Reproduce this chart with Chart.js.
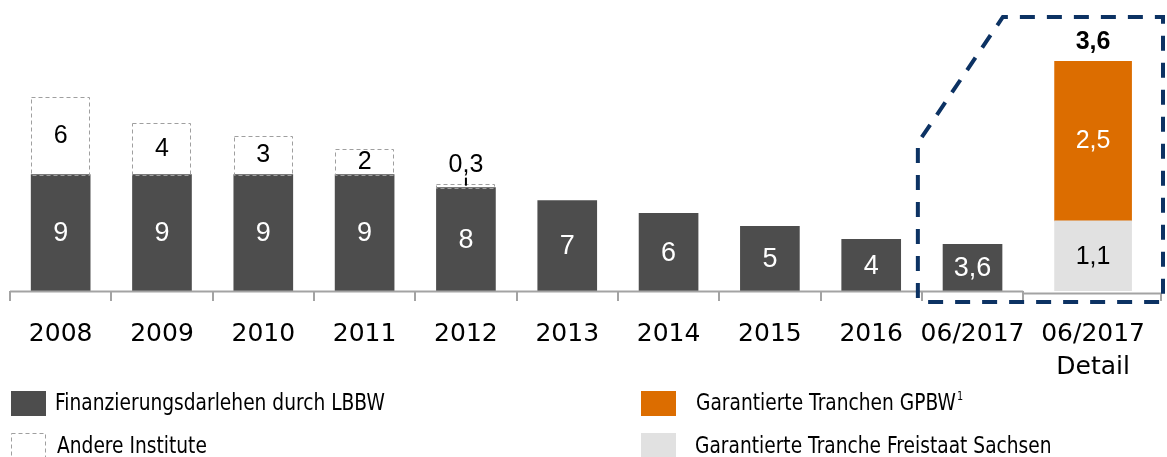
<!DOCTYPE html>
<html lang="de">
<head>
<meta charset="utf-8">
<title>Finanzierungsstruktur</title>
<script src="https://cdn.jsdelivr.net/npm/chart.js@4.4.1/dist/chart.umd.min.js"></script>
<style>
  html, body { margin: 0; padding: 0; background: #fff; }
  #wrap { width: 1167px; height: 457px; position: relative; }
</style>
</head>
<body>
<div id="wrap"><canvas id="chart"></canvas></div>
<script>
const categories = ['2008', '2009', '2010', '2011', '2012', '2013', '2014', '2015', '2016', '06/2017']
const lbbwValues = [9, 9, 9, 9, 8, 7, 6, 5, 4, 3.6]
const otherValues = [6, 4, 3, 2, 0.3, null, null, null, null, null]
const detailCategory = ['06/2017', 'Detail']
const freistaatValues = [1.1]
const gpbwValues = [2.5]
const detailTotal = 3.6

const DARK = '#4d4d4d'
const ORANGE = '#dc6d00'
const LIGHT = '#e1e1e1'
const NAVY = '#0c3263'
const AXIS = '#a3a3a3'
const DASH_GREY = '#9f9f9f'

// every year is one unit wide on x, the detail column gets a wider slot
const DETAIL_WIDTH = 1.38
const detailX = categories.length + DETAIL_WIDTH / 2

const fmt = v => String(v).replace('.', ',')
const mainPoints = vals => vals.map((v, i) => ({x: i + 0.5, y: v}))
const detailPoints = vals => vals.map(v => ({x: detailX, y: v}))

function drawText(ctx, str, px, py, font, color, sx = 1, align = 'center') {
    ctx.save()
    ctx.font = font
    ctx.fillStyle = color
    ctx.textAlign = align
    ctx.textBaseline = 'middle'
    ctx.translate(px, py)
    ctx.scale(sx, 1)
    ctx.fillText(str, 0, 0)
    ctx.restore()
}

function dashedRect(ctx, x, y, w, h) {
    ctx.save()
    ctx.strokeStyle = DASH_GREY
    ctx.lineWidth = 1
    ctx.setLineDash([4, 3])
    ctx.strokeRect(Math.round(x) + 0.5, Math.round(y) + 0.5, Math.round(w) - 1, Math.round(h))
    ctx.restore()
}

const legendItems = [
    {text: 'Finanzierungsdarlehen durch LBBW', fill: DARK, box: [11, 391], tx: 55, ty: 404},
    {text: 'Andere Institute', fill: null, box: [11, 433], tx: 57, ty: 447},
    {text: 'Garantierte Tranchen GPBW', sup: '1', fill: ORANGE, box: [641, 391], tx: 696, ty: 404},
    {text: 'Garantierte Tranche Freistaat Sachsen', fill: LIGHT, box: [641, 433], tx: 695, ty: 447},
]

const LEGEND_FONT = '23px "DejaVu Sans"'
const LEGEND_SX = 0.81
const AXIS_FONT = '25px "DejaVu Sans"'

const decorations = {
    id: 'decorations',
    afterDatasetsDraw(chart) {
        const {ctx, chartArea, scales: {x, y, y2}} = chart
        const base = y.getPixelForValue(0)

        // dashed boxes for the other banks
        chart.getDatasetMeta(1).data.forEach((bar, i) => {
            const v = otherValues[i]
            if (v == null) return
            const p = bar.getProps(['x', 'y', 'base', 'width'], true)
            dashedRect(ctx, p.x - p.width / 2, p.y, p.width, p.base - p.y)
            if (p.base - p.y > 24) {
                drawText(ctx, fmt(v), p.x, (p.y + p.base) / 2, '25px "Liberation Sans"', '#000')
            } else {
                drawText(ctx, fmt(v), p.x, p.y - 19, '25px "Liberation Sans"', '#000')
                ctx.save()
                ctx.strokeStyle = '#000'
                ctx.lineWidth = 2
                ctx.beginPath()
                ctx.moveTo(p.x, p.y - 6)
                ctx.lineTo(p.x, p.y + 2)
                ctx.stroke()
                ctx.restore()
            }
        })

        // values inside the LBBW bars
        chart.getDatasetMeta(0).data.forEach((bar, i) => {
            const p = bar.getProps(['x', 'y', 'base'], true)
            drawText(ctx, fmt(lbbwValues[i]), p.x, (p.y + p.base) / 2 + 1, '27px "Liberation Sans"', '#fff')
        })

        // detail column
        const fr = chart.getDatasetMeta(2).data[0].getProps(['x', 'y', 'base'], true)
        drawText(ctx, fmt(freistaatValues[0]), fr.x, (fr.y + fr.base) / 2 + 1, '25px "Liberation Sans"', '#000')
        const gp = chart.getDatasetMeta(3).data[0].getProps(['x', 'y', 'base'], true)
        drawText(ctx, fmt(gpbwValues[0]), gp.x, (gp.y + gp.base) / 2, '25px "Liberation Sans"', '#fff')
        drawText(ctx, fmt(detailTotal), gp.x, y2.getPixelForValue(detailTotal) - 19, 'bold 25px "Liberation Sans"', '#000')

        // category axis with ticks between the years
        const split = x.getPixelForValue(categories.length)
        ctx.save()
        ctx.strokeStyle = AXIS
        ctx.lineWidth = 2
        ctx.beginPath()
        ctx.moveTo(x.getPixelForValue(0), base + 0.5)
        ctx.lineTo(split, base + 0.5)
        for (let k = 0; k <= categories.length; k++) {
            const px = Math.round(x.getPixelForValue(k))
            ctx.moveTo(px, base)
            ctx.lineTo(px, base + 10)
        }
        const dRight = chartArea.right - 2
        ctx.moveTo(split, base + 2.5)
        ctx.lineTo(dRight, base + 2.5)
        ctx.lineTo(dRight, base + 10)
        ctx.stroke()
        ctx.restore()

        categories.forEach((c, i) => {
            drawText(ctx, c, x.getPixelForValue(i + 0.5), 334, AXIS_FONT, '#000')
        })
        detailCategory.forEach((line, j) => {
            drawText(ctx, line, x.getPixelForValue(detailX), 334 + j * 33, AXIS_FONT, '#000')
        })

        // frame around the 06/2017 breakdown
        const left = x.getPixelForValue(categories.length - 1) - 4
        const right = chartArea.right
        ctx.save()
        ctx.strokeStyle = NAVY
        ctx.lineWidth = 4
        ctx.setLineDash([15, 12])
        ctx.beginPath()
        ctx.moveTo(left, base + 7)
        ctx.lineTo(left, 143)
        ctx.lineTo(left + 85, 17)
        ctx.lineTo(right, 17)
        ctx.lineTo(right, base + 11)
        ctx.lineTo(left + 10, base + 11)
        ctx.stroke()
        ctx.restore()

        // legend
        legendItems.forEach(item => {
            const [bx, by] = item.box
            if (item.fill) {
                ctx.fillStyle = item.fill
                ctx.fillRect(bx, by, 35, 25)
            } else {
                dashedRect(ctx, bx, by, 35, 26)
            }
            drawText(ctx, item.text, item.tx, item.ty, LEGEND_FONT, '#000', LEGEND_SX, 'left')
            if (item.sup) {
                ctx.save()
                ctx.font = LEGEND_FONT
                const w = ctx.measureText(item.text).width * LEGEND_SX
                ctx.restore()
                drawText(ctx, item.sup, item.tx + w + 1, item.ty - 7, '12px "DejaVu Sans"', '#000', LEGEND_SX, 'left')
            }
        })
    }
}

new Chart(document.getElementById('chart'), {
    type: 'bar',
    data: {
        datasets: [{
            label: 'Finanzierungsdarlehen durch LBBW',
            data: mainPoints(lbbwValues),
            backgroundColor: DARK,
            barThickness: 59,
            grouped: false,
            yAxisID: 'y'
        }, {
            label: 'Andere Institute',
            data: mainPoints(otherValues),
            backgroundColor: '#ffffff',
            barThickness: 59,
            grouped: false,
            yAxisID: 'y'
        }, {
            label: 'Garantierte Tranche Freistaat Sachsen',
            data: detailPoints(freistaatValues),
            backgroundColor: LIGHT,
            barThickness: 77,
            grouped: false,
            yAxisID: 'y2'
        }, {
            label: 'Garantierte Tranchen GPBW',
            data: detailPoints(gpbwValues),
            backgroundColor: ORANGE,
            barThickness: 77,
            grouped: false,
            yAxisID: 'y2'
        }]
    },
    options: {
        responsive: true,
        maintainAspectRatio: false,
        animation: false,
        devicePixelRatio: 1,
        layout: {
            padding: {left: 10, right: 4, top: 0, bottom: 166}
        },
        plugins: {
            legend: {display: false},
            tooltip: {enabled: false}
        },
        scales: {
            x: {
                type: 'linear',
                min: 0,
                max: categories.length + DETAIL_WIDTH,
                offset: false,
                stacked: true,
                display: false
            },
            y: {
                min: 0,
                max: 22.5,
                stacked: true,
                display: false
            },
            y2: {
                min: 0,
                max: 4.56,
                stacked: true,
                display: false
            }
        }
    },
    plugins: [decorations]
})
</script>
</body>
</html>
